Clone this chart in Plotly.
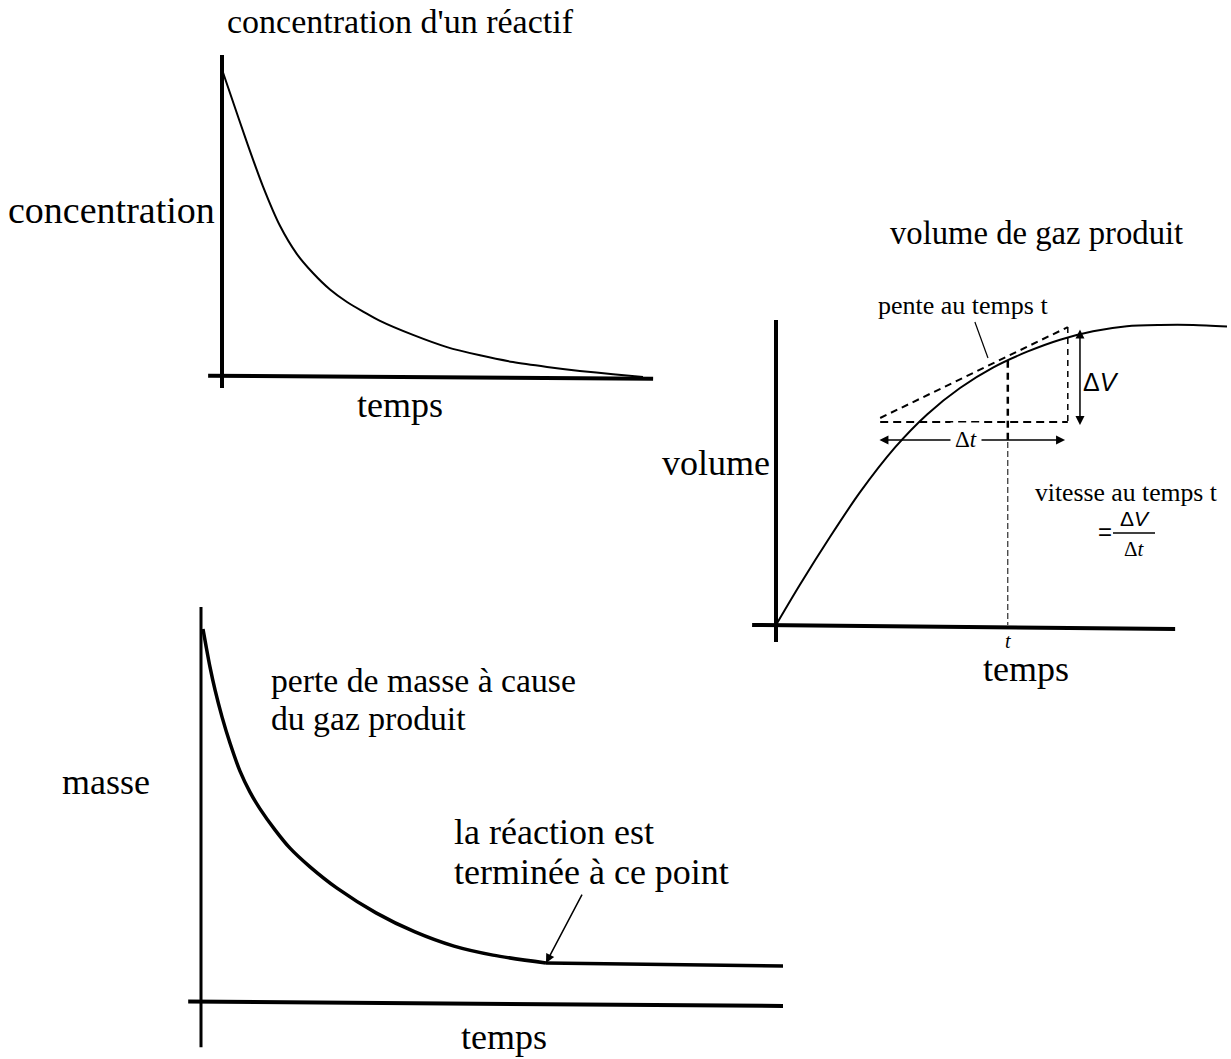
import plotly.graph_objects as go

W, H = 1231, 1059

# ---------------- data ----------------
# A: concentration d'un réactif (relative time, relative concentration)
conc_time = [0.02, 0.19, 0.59, 0.97, 1.38, 1.78, 2.16, 2.565, 2.969, 3.373, 3.753, 4.537, 5.344, 6.128,
             6.912, 7.72, 8.5, 9.29, 10.0]
conc_value = [1.0, 0.931, 0.770, 0.626, 0.495, 0.403, 0.341, 0.287, 0.246, 0.213, 0.184, 0.138, 0.098, 0.071,
              0.049, 0.033, 0.020, 0.009, 0.0]

# B: masse (relative time, relative mass)
mass_time = [0.034, 0.086, 0.155, 0.241, 0.361, 0.498, 0.670, 0.842, 1.014, 1.271, 1.529, 1.873, 2.337,
             3.007, 3.677, 4.347, 5.017, 5.928]
mass_value = [1.0, 0.955, 0.898, 0.837, 0.765, 0.695, 0.620, 0.564, 0.519, 0.463, 0.414, 0.364, 0.307,
              0.241, 0.190, 0.152, 0.128, 0.107]
plateau_time = [5.928, 10.0]
plateau_value = [0.107, 0.099]
end_arrow_tail = (6.56, 0.294)   # tail of the "terminée" arrow

# C: volume de gaz produit (relative time, relative volume)
vol_time = [0, 0.53, 1.20, 1.86, 2.64, 3.35, 4.08, 4.81, 5.57, 6.30, 7.03, 7.78, 8.51, 9.25, 10.0]
vol_value = [0, 0.134, 0.294, 0.442, 0.592, 0.702, 0.790, 0.858, 0.911, 0.951, 0.979, 0.996, 1.0, 1.0, 0.995]
t_point = 5.14
v_point = 0.881
tangent_time = [2.31, 6.47]
tangent_value = [0.69, 0.993]
base_value = 0.677
delta_v_time = 6.74
delta_v_range = [0.99, 0.667]
delta_t_value = 0.617
delta_t_range = [2.26, 6.41]
leader_time = [4.41, 4.70]
leader_value = [1.01, 0.89]

# ---------------- layout helpers ----------------
SERIF = "Liberation Serif, Times New Roman, serif"
SANS = "Liberation Sans, Arial, sans-serif"


def rng(p0, v0, p1, v1, a, b):
    s = (v1 - v0) / (p1 - p0)
    return [v0 + (a - p0) * s, v0 + (b - p0) * s]


# calibration: (pixel, value) anchors and subplot box in pixels (left, top, right, bottom)
calib = {
    "": dict(x=(222, 0, 643, 10), y=(377, 0, 72, 1), box=(150, 30, 700, 400)),
    "2": dict(x=(201, 0, 783, 10), y=(1003, 0, 629, 1), box=(150, 595, 800, 1055)),
    "3": dict(x=(776, 0, 1227, 10), y=(625, 0, 325, 1), box=(740, 290, 1231, 700)),
}

fig = go.Figure()
layout = {}
for k, c in calib.items():
    l, t, r, b = c["box"]
    xr = rng(*c["x"], l, r)
    yr = rng(*c["y"], b, t)
    layout["xaxis" + k] = dict(domain=[l / W, r / W], range=xr, visible=False, fixedrange=True,
                               anchor="y" + k)
    layout["yaxis" + k] = dict(domain=[1 - b / H, 1 - t / H], range=yr, visible=False, fixedrange=True,
                               anchor="x" + k)


def line(xs, ys, ax, width, dash="solid", shape="linear"):
    fig.add_trace(go.Scatter(x=xs, y=ys, mode="lines", xaxis="x" + ax, yaxis="y" + ax,
                             line=dict(color="black", width=width, dash=dash, shape=shape,
                                       smoothing=0.8 if shape == "spline" else None),
                             hoverinfo="skip", showlegend=False))


# ---- chart A ----
line([0, 0], [-0.036, 1.056], "", 4)
line([-0.33, 10.24], [0.004, -0.006], "", 4)
line(conc_time, conc_value, "", 2, shape="spline")

# ---- chart B ----
line([0, 0], [-0.118, 1.059], "2", 3)
line([-0.22, 10.0], [0.004, -0.008], "2", 4)
line(mass_time, mass_value, "2", 3.5, shape="spline")
line(plateau_time, plateau_value, "2", 3.5)

# ---- chart C ----
line([0, 0], [-0.057, 1.017], "3", 4)
line([-0.53, 8.85], [0.0, -0.013], "3", 4)
line(vol_time, vol_value, "3", 2, shape="spline")
line(tangent_time, tangent_value, "3", 2, "7px,5px")
line(tangent_time, [base_value, base_value], "3", 2, "8px,5px")
line([tangent_time[1], tangent_time[1]], [tangent_value[1], base_value], "3", 1.5, "6px,5px")
line([t_point, t_point], [v_point, 0.61], "3", 2.5, "7px,5px")
line([t_point, t_point], [0.61, 0], "3", 1, "6px,3px")
line(leader_time, leader_value, "3", 1.2)

annotations = []


def arrow(x, y, ax, ay, k, side="end", width=1.5):
    annotations.append(dict(x=x, y=y, ax=ax, ay=ay, xref="x" + k, yref="y" + k,
                            axref="x" + k, ayref="y" + k, text="", showarrow=True,
                            arrowhead=2, arrowsize=1.2, arrowwidth=width, arrowcolor="black",
                            arrowside=side, standoff=0, startstandoff=0))


arrow(mass_time[-1], mass_value[-1], end_arrow_tail[0], end_arrow_tail[1], "2", width=1.5)
arrow(delta_v_time, delta_v_range[1], delta_v_time, delta_v_range[0], "3", side="end+start", width=1.5)
arrow(delta_t_range[1], delta_t_value, delta_t_range[0], delta_t_value, "3", side="end+start", width=1.5)


def text(s, px, py, size, xanchor="center", family=SERIF, bg=None, pad=1):
    d = dict(x=px / W, y=1 - py / H, xref="paper", yref="paper", text=s, showarrow=False,
             xanchor=xanchor, yanchor="middle", font=dict(family=family, size=size, color="black"),
             borderpad=pad)
    if bg:
        d["bgcolor"] = bg
    annotations.append(d)


# chart A texts
text("concentration d'un réactif", 400, 22, 34)
text("concentration", 217, 210, 38, "right")
text("temps", 400, 405, 36)

# chart B texts
text("masse", 106, 782, 36)
text("perte de masse à cause", 269, 680, 33.7, "left")
text("du gaz produit", 269, 718, 33.7, "left")
text("la réaction est", 452, 832, 36, "left")
text("terminée à ce point", 452, 872, 36, "left")
text("temps", 504, 1037, 36)

# chart C texts
text("volume de gaz produit", 1036, 233, 32.7)
text("pente au temps t", 876, 305, 26, "left")
text("volume", 772, 463, 36, "right")
text("temps", 1026, 669, 36)
text("<i>t</i>", 1008, 641, 20)
text("Δ<i>V</i>", 1081, 382, 25, "left", SANS)
text("Δ<i>t</i>", 966, 440, 23, "center", SERIF, bg="white", pad=4)
text("vitesse au temps t", 1126, 493, 25.7)
text("=", 1105, 531, 24, "center", SANS)
text("Δ<i>V</i>", 1135, 518, 21, "center", SANS)
text("Δ<i>t</i>", 1134, 549, 21, "center", SERIF)

shapes = [dict(type="line", xref="paper", yref="paper", x0=1113 / W, x1=1155 / W,
               y0=1 - 533 / H, y1=1 - 533 / H, line=dict(color="black", width=1.5))]

fig.update_layout(width=W, height=H, margin=dict(l=0, r=0, t=0, b=0),
                  paper_bgcolor="white", plot_bgcolor="rgba(0,0,0,0)",
                  annotations=annotations, shapes=shapes, showlegend=False, **layout)

fig.write_html("out.html", config={"displayModeBar": False},
               post_script="document.body.style.margin='0';document.body.style.overflow='hidden';")
